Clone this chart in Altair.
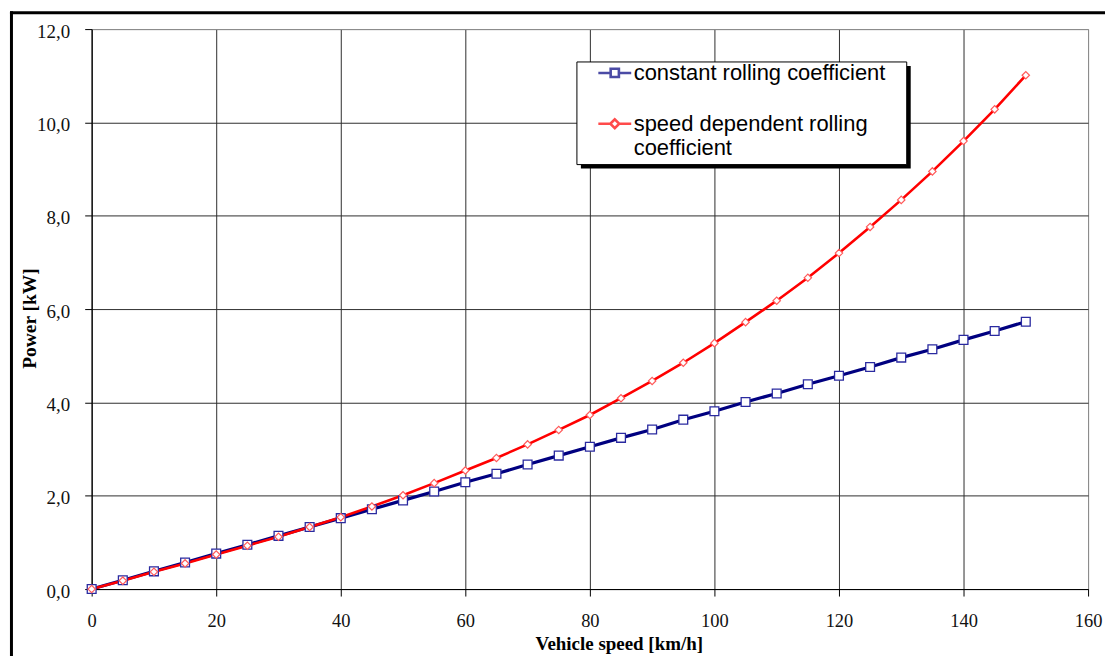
import altair as alt
import pandas as pd

# ---- data ----
speed = list(range(0, 155, 5))
constant_rolling = [0.00, 0.19, 0.38, 0.57, 0.76, 0.95, 1.14, 1.33, 1.52, 1.71,
                    1.90, 2.09, 2.29, 2.47, 2.67, 2.86, 3.05, 3.24, 3.42, 3.63,
                    3.81, 4.01, 4.19, 4.39, 4.57, 4.76, 4.96, 5.14, 5.34, 5.53, 5.73]
speed_dependent = [0.00, 0.18, 0.37, 0.55, 0.74, 0.93, 1.12, 1.33, 1.54, 1.77,
                   2.01, 2.27, 2.54, 2.81, 3.10, 3.41, 3.73, 4.09, 4.46, 4.85,
                   5.27, 5.72, 6.18, 6.67, 7.20, 7.76, 8.34, 8.95, 9.60, 10.28, 11.01]
series_names = ["constant rolling coefficient", "speed dependent rolling coefficient"]
series_colors = ["#000080", "#ff0000"]
x_ticks = [0, 20, 40, 60, 80, 100, 120, 140, 160]
y_ticks = [0, 2, 4, 6, 8, 10, 12]

df = pd.DataFrame({
    "speed": speed + speed,
    "power": constant_rolling + speed_dependent,
    "series": [series_names[0]] * len(speed) + [series_names[1]] * len(speed),
})
one = pd.DataFrame({"k": [0]})

SERIF = "Liberation Serif"
SANS = "Liberation Sans"

x_enc = alt.X(
    "speed:Q",
    scale=alt.Scale(domain=[0, 160], nice=False),
    axis=alt.Axis(
        values=x_ticks, title="Vehicle speed [km/h]", format="d",
        labelFont=SERIF, labelFontSize=18.5, labelColor="#111", labelFlush=False,
        labelBaseline="alphabetic", labelPadding=31,
        tickSize=7, tickColor="black", domainColor="black",
        gridColor={"condition": {"test": "datum.value >= 160", "value": "#8c8c8c"}, "value": "#2e2e2e"},
        titleFont=SERIF, titleFontSize=19, titleFontWeight="bold", titleColor="black",
        titleX=529, titleY=61, titleBaseline="alphabetic", titleAnchor="start", titleAlign="center",
    ),
)
y_enc = alt.Y(
    "power:Q",
    scale=alt.Scale(domain=[0, 12], nice=False),
    axis=alt.Axis(
        values=y_ticks, title="Power [kW]",
        labelExpr="replace(format(datum.value, '.1f'), '.', ',')",
        labelFont=SERIF, labelFontSize=19, labelColor="#111", labelFlush=False,
        labelPadding=15, labelOffset=2,
        tickSize=7, tickColor="black", domainColor="black",
        gridColor={"condition": {"test": "datum.value >= 12", "value": "#8c8c8c"}, "value": "#2e2e2e"},
        titleFont=SERIF, titleFontSize=19.5, titleFontWeight="bold", titleColor="black",
        titleX=-56, titleY=290, titleBaseline="alphabetic", titleAnchor="start", titleAlign="center",
    ),
)

base = alt.Chart(df)
const_data = base.transform_filter(alt.datum.series == series_names[0])
dep_data = base.transform_filter(alt.datum.series == series_names[1])

line_const = const_data.mark_line(strokeWidth=3.2, color=series_colors[0]).encode(x=x_enc, y=y_enc)
line_dep = dep_data.mark_line(strokeWidth=2.6, color=series_colors[1]).encode(x=x_enc, y=y_enc)

pts_const = const_data.mark_point(
    shape="square", size=78, filled=True, fill="white", stroke="#2a2aa0", strokeWidth=1.3, opacity=1
).encode(x=x_enc, y=y_enc)
pts_dep = dep_data.mark_point(
    shape="diamond", size=55, filled=True, fill="white", stroke="#ff5a5a", strokeWidth=1.2, opacity=1
).encode(x=x_enc, y=y_enc)

# legend box and its shadow
shadow = alt.Chart(one).mark_rect(color="black").encode(
    x=alt.value(491), x2=alt.value(822), y=alt.value(37), y2=alt.value(140)
)
box = alt.Chart(one).mark_rect(fill="white", stroke="black", strokeWidth=1).encode(
    x=alt.value(487), x2=alt.value(818), y=alt.value(33), y2=alt.value(136)
)

path_sq = "M-1,0L-0.25,0M0.25,0L1,0M-0.25,-0.25L0.25,-0.25L0.25,0.25L-0.25,0.25Z"
path_di = "M-1,0L-0.27,0M0.27,0L1,0M-0.27,0L0,-0.27L0.27,0L0,0.27Z"

legend_def = alt.Legend(
    title=None, orient="none", legendX=507, legendY=26, padding=0,
    labelFont=SANS, labelFontSize=22, labelColor="black", labelLimit=0,
    labelOffset=1, rowPadding=22, symbolSize=1089, symbolStrokeWidth=2.6,
    symbolFillColor="white",
    labelExpr="datum.label == 'speed dependent rolling coefficient' ? ['speed dependent rolling', 'coefficient'] : datum.label",
)

# legend-only layer: its own marks have zero size, only the legend shows
legend_layer = base.mark_point(filled=True, fill="white").encode(
    x=x_enc, y=y_enc,
    size=alt.value(0),
    stroke=alt.Stroke("series:N", scale=alt.Scale(domain=series_names, range=series_colors), legend=legend_def),
    shape=alt.Shape("series:N", scale=alt.Scale(domain=series_names, range=[path_sq, path_di]), legend=legend_def),
)

# outer frame (left and top edges)
frame_left = alt.Chart(one).mark_rule(color="black", strokeWidth=3).encode(
    x=alt.value(-80.5), y=alt.value(-18), y2=alt.value(630)
)
frame_top = alt.Chart(one).mark_rule(color="black", strokeWidth=3).encode(
    y=alt.value(-16.5), x=alt.value(-82), x2=alt.value(1017)
)

chart = alt.layer(
    line_const, line_dep, pts_const, pts_dep, shadow, box, legend_layer, frame_left, frame_top
).properties(
    width=1000, height=562,
    padding={"left": 8, "top": 8, "right": 0, "bottom": 0},
    background="white",
).configure_view(
    stroke="#8c8c8c", strokeWidth=1
).configure_legend(
    symbolBaseFillColor="white"
)

chart.save("out.html", embed_options={"renderer": "svg", "actions": False})
